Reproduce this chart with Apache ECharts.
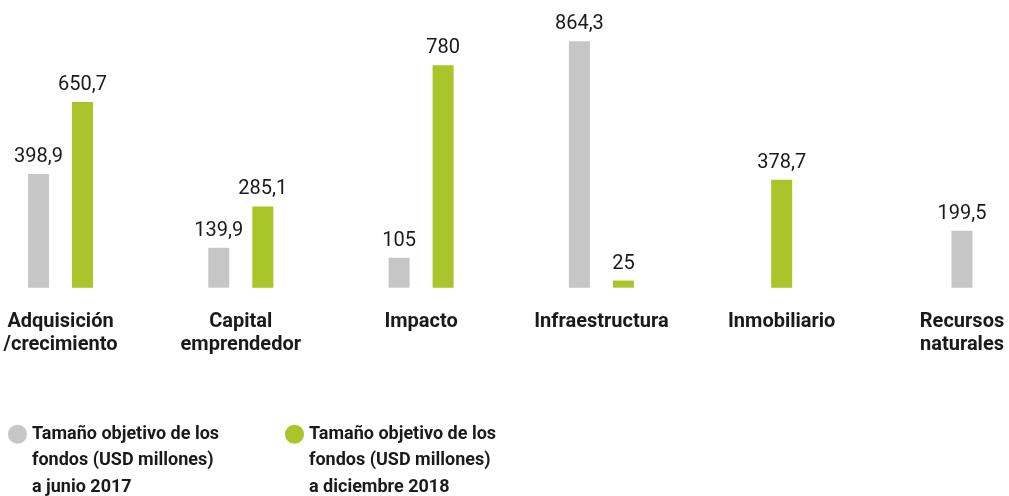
<!DOCTYPE html>
<html lang="es">
<head>
<meta charset="UTF-8">
<title>Tamaño objetivo de los fondos</title>
<script src="https://cdn.jsdelivr.net/npm/echarts@6/dist/echarts.min.js"></script>
<style>
  html, body { margin: 0; padding: 0; background: #fff; }
  #chart { width: 1009px; height: 496px; }
</style>
</head>
<body>
<div id="chart"></div>
<script>
// datos
const categorias = ['Adquisición\n/crecimiento', 'Capital\nemprendedor', 'Impacto', 'Infraestructura', 'Inmobiliario', 'Recursos\nnaturales'];
const junio2017 = [398.9, 139.9, 105, 864.3, null, 199.5];
const diciembre2018 = [650.7, 285.1, 780, 25, 378.7, null];
const nombreGris = 'Tamaño objetivo de los\nfondos (USD millones)\na junio 2017';
const nombreVerde = 'Tamaño objetivo de los\nfondos (USD millones)\na diciembre 2018';

const GRIS = '#c6c6c6';
const VERDE = '#a9c52a';
const FONT = 'Roboto';

// [categoria, valor, hay otra barra (1/0)]
function filas(vals, otros) {
  return vals.map((v, i) => v == null ? null : [i, v, otros[i] == null ? 0 : 1]);
}

function pintarBarra(lado) {
  return function (params, api) {
    const i = api.value(0);
    const v = api.value(1);
    const par = api.value(2);
    const base = api.coord([i, 0]);
    const tope = api.coord([i, v]);
    const ancho = 21;
    // si falta la otra barra, esta queda centrada en la categoría
    const desplaz = par ? lado * 22 : 0;
    return {
      type: 'rect',
      shape: { x: base[0] + desplaz - ancho / 2, y: tope[1], width: ancho, height: base[1] - tope[1] },
      style: { fill: api.visual('color') },
      textContent: {
        style: {
          text: String(v).replace('.', ','),
          fontFamily: FONT, fontSize: 20, fill: '#1a1a1a'
        }
      },
      textConfig: { position: 'top', distance: 7 }
    };
  };
}

const chart = echarts.init(document.getElementById('chart'));

// dos líneas vacías arriba para que el círculo quede a la altura de la primera línea
const legendaBase = {
  orient: 'vertical',
  top: 368,
  padding: 0,
  icon: 'circle',
  itemWidth: 19,
  itemHeight: 19,
  selectedMode: false,
  formatter: n => '\n\n' + n,
  textStyle: {
    fontFamily: FONT, fontSize: 18, fontWeight: 'bold', color: '#1a1a1a',
    lineHeight: 26.5
  }
};

chart.setOption({
  animation: false,
  grid: { left: 60.5, right: 47, top: 2.5, bottom: 208.3 },
  legend: [
    Object.assign({}, legendaBase, { left: 8, data: [nombreGris] }),
    Object.assign({}, legendaBase, { left: 285, data: [nombreVerde] })
  ],
  xAxis: {
    type: 'category',
    data: categorias,
    boundaryGap: false,
    axisLine: { show: false },
    axisTick: { show: false },
    splitLine: { show: false },
    axisLabel: {
      interval: 0,
      margin: 23,
      fontFamily: FONT, fontSize: 20, fontWeight: 'bold', color: '#1a1a1a',
      lineHeight: 23, verticalAlign: 'top'
    }
  },
  yAxis: {
    type: 'value',
    min: 0,
    max: 1000,
    show: false
  },
  series: [
    {
      name: nombreGris,
      type: 'custom',
      itemStyle: { color: GRIS },
      renderItem: pintarBarra(-1),
      data: filas(junio2017, diciembre2018).filter(d => d)
    },
    {
      name: nombreVerde,
      type: 'custom',
      itemStyle: { color: VERDE },
      renderItem: pintarBarra(1),
      data: filas(diciembre2018, junio2017).filter(d => d)
    }
  ]
});

window.addEventListener('resize', () => chart.resize());
</script>
</body>
</html>
